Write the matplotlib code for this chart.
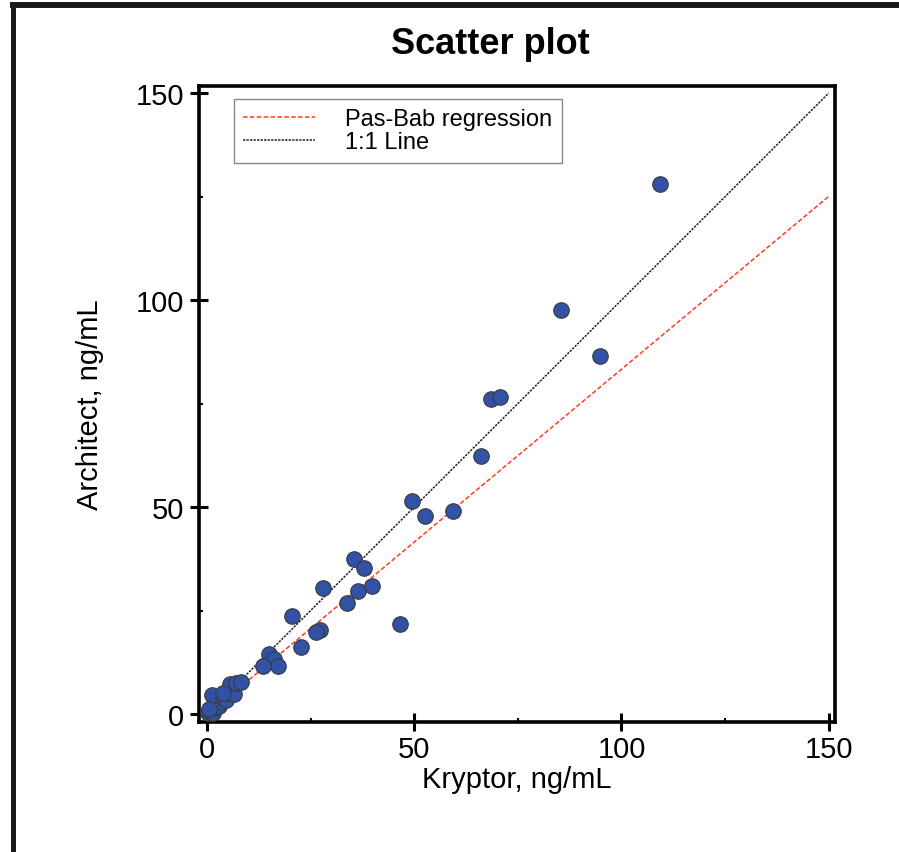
import matplotlib
matplotlib.use("Agg")
import matplotlib.pyplot as plt
from matplotlib.lines import Line2D
import numpy as np

plt.rcParams['font.family'] = ['Liberation Sans', 'DejaVu Sans']

kryptor = [109.2, 85.4, 94.8, 68.5, 70.7, 66.1, 49.4, 52.6, 59.3, 35.4, 37.8, 36.4,
           39.8, 33.8, 28.0, 20.5, 27.2, 26.3, 22.7, 46.5, 15.0, 16.2, 17.1, 13.5,
           0.3, 0.8, 1.2, 1.5, 2.0, 2.5, 3.0, 3.5, 1.3, 4.0, 4.5, 5.0, 5.5, 6.5,
           7.0, 8.2, 3.8, 0.5]
architect = [128.0, 97.6, 86.5, 76.1, 76.6, 62.3, 51.4, 47.8, 49.0, 37.4, 35.3, 29.7,
             30.9, 26.8, 30.4, 23.7, 20.3, 19.8, 16.2, 21.7, 14.5, 13.3, 11.6, 11.6,
             0.2, 0.5, 1.0, 0.3, 1.5, 2.5, 2.0, 3.0, 4.6, 4.0, 3.5, 5.0, 7.3, 4.8,
             7.5, 7.7, 5.2, 1.2]

reg_slope = 0.835
reg_intercept = -0.2
line_x = [0, 150]
ticks = [0, 50, 100, 150]
minor_ticks = [25, 75, 125]

fig = plt.figure(figsize=(8.99, 8.53), dpi=100)
ax = fig.add_axes([199/899, 1-723/853, 636/899, 636/853])

ax.plot(line_x, [reg_intercept + reg_slope*v for v in line_x], color='#ff3b1f',
        lw=1.1, linestyle=(0, (3, 1.5)), label='Pas-Bab regression', zorder=2)
ax.plot(line_x, line_x, color='#222222', lw=1.1, linestyle=(0, (1.5, 0.8)),
        label='1:1 Line', zorder=2)
ax.scatter(kryptor, architect, s=125, facecolor='#3152a5', edgecolor='#3a3a3a',
           linewidth=0.8, zorder=3)

ax.set_xlim(-1.9, 151.5)
ax.set_ylim(-1.9, 151.7)
ax.set_xticks(ticks)
ax.set_yticks(ticks)
ax.set_xticks(minor_ticks, minor=True)
ax.set_yticks(minor_ticks, minor=True)
ax.tick_params(which='major', direction='inout', length=13, width=2.2, labelsize=21, pad=4)
ax.tick_params(axis='x', which='major', pad=3)
ax.tick_params(which='minor', direction='in', length=3, width=1.5)
for sp in ax.spines.values():
    sp.set_linewidth(2.6)

ax.set_xlabel('Kryptor, ng/mL', fontsize=21, labelpad=1)
ax.set_ylabel('Architect, ng/mL', fontsize=21, labelpad=23)
fig.text(490/899, 1-45/853, 'Scatter plot', fontsize=26, fontweight='bold',
         ha='center', va='center')

leg = ax.legend(loc='upper left', bbox_to_anchor=(0.055, 0.98), fontsize=17,
                frameon=True, fancybox=False, framealpha=1, edgecolor='#888888',
                handlelength=3.05, handletextpad=1.27, labelspacing=0.05,
                borderpad=0.4, borderaxespad=0)
leg.get_frame().set_linewidth(1.0)

fig.add_artist(Line2D([12.5/899, 12.5/899], [0, 1-3/853], color='#1a1a1a', lw=3.6,
                      transform=fig.transFigure, solid_capstyle='butt'))
fig.add_artist(Line2D([10/899, 1], [1-6/853, 1-6/853], color='#1a1a1a', lw=4.3,
                      transform=fig.transFigure, solid_capstyle='butt'))

fig.savefig('out.png', dpi=100)
